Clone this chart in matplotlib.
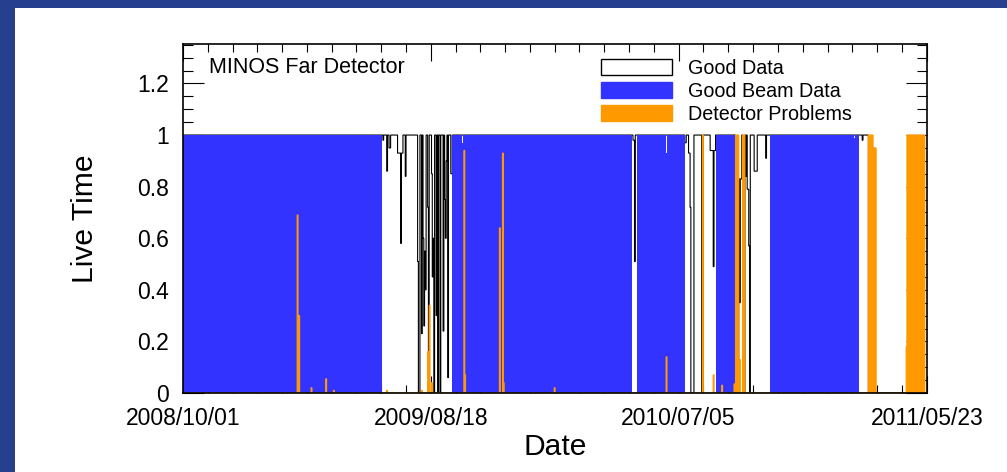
import numpy as np
import matplotlib.pyplot as plt
import matplotlib.dates as mdates
from matplotlib.patches import Rectangle, Patch
from matplotlib.ticker import FixedLocator, FuncFormatter, MultipleLocator

plt.rcParams['font.family'] = ['Liberation Sans', 'DejaVu Sans']

start = np.datetime64('2008-10-01')
n_days = 964
tick_dates = ['2008-10-01', '2009-08-18', '2010-07-05', '2011-05-23']

# good beam data, bins given as days since 2008/10/01
beam_edges = [0, 258, 349, 362, 363, 582, 588, 626, 627, 650, 690, 715, 760, 870, 871, 876, 964]
beam_vals = [1, 0, 1, 0.97, 1, 0, 1, 0.93, 1, 0, 1, 0, 1, 0.99, 1, 0]

# good data: live time is 1 except on these days
good_dip_days = [259, 264, 267, 268, 278, 279, 280, 281, 282, 283, 284, 288,
                 304, 305, 306, 309, 311, 312, 313, 314, 317, 318, 322, 323, 324, 325,
                 328, 330, 333, 337, 339, 340, 341, 343, 347, 348,
                 583, 584, 585, 650, 651, 655, 656, 657,
                 683, 684, 685, 686, 687, 688, 689,
                 720, 721, 722, 723, 729, 731, 732, 733, 734,
                 740, 741, 742, 743, 755, 880]
good_dip_vals = [0.98, 0.86, 0.95, 0.95, 0.93, 0.93, 0.93, 0.93, 0.58, 0.93, 0.93, 0.84,
                 0.51, 0.0, 0.0, 0.23, 0.6, 0.26, 0.55, 0.4, 0.72, 0.0, 0.85, 0.45, 0.6, 0.0,
                 0.3, 0.0, 0.0, 0.24, 0.75, 0.6, 0.9, 0.06, 0.85, 0.85,
                 0.98, 0.98, 0.51, 0.97, 0.97, 0.93, 0.93, 0.72,
                 0.94, 0.94, 0.94, 0.94, 0.49, 0.94, 0.94,
                 0.83, 0.35, 0.83, 0.83, 0.84, 0.79, 0.79, 0.57, 0.0,
                 0.86, 0.86, 0.86, 0.86, 0.91, 0.98]
good_off = [(658, 662), (672, 674), (716, 720), (725, 728), (888, 964)]

# detector problems
prob_days = [148, 149, 150, 166, 185, 195, 264, 309, 317, 318, 319, 322,
             364, 365, 410, 414, 415, 481, 626, 673, 687, 698, 714, 720, 721]
prob_vals = [0.69, 0.30, 0.30, 0.02, 0.055, 0.01, 0.01, 0.01, 0.16, 0.16, 0.34, 0.04,
             0.94, 0.07, 0.64, 0.93, 0.04, 0.02, 0.14, 1.0, 0.07, 0.03, 0.035, 0.13, 0.13]
prob_spans = [(716, 720, 1.0), (725, 728, 1.0), (888, 894, 1.0), (894, 898, 0.95),
              (937, 938, 0.18), (938, 961, 1.0)]

good = np.ones(n_days)
good[good_dip_days] = good_dip_vals
for a, b in good_off:
    good[a:b] = 0
prob = np.zeros(n_days)
prob[prob_days] = prob_vals
for a, b, v in prob_spans:
    prob[a:b] = v

t0 = mdates.date2num(start)
day_edges = t0 + np.arange(n_days + 1)

fig = plt.figure(figsize=(10.07, 4.72), dpi=100)
fig.patch.set_facecolor('#26408f')
fig.add_artist(Rectangle((15 / 1007, 0), 1, 1 - 8 / 472, transform=fig.transFigure,
                         facecolor='white', edgecolor='none', zorder=-1))
ax = fig.add_axes([0.1817, 0.1674, 0.7389, 0.7394])

ax.stairs(good, day_edges, color='black', lw=0.8, zorder=2)
ax.stairs(beam_vals, t0 + np.array(beam_edges), fill=True, color='#3333ff', lw=0, zorder=3)
ax.stairs(prob, day_edges, fill=True, facecolor='#ff9900', edgecolor='#ff9900', lw=0.9, zorder=4)

ax.set_xlim(t0, t0 + n_days)
ax.set_ylim(0, 1.353)
major = [mdates.date2num(np.datetime64(d)) for d in tick_dates]
ax.xaxis.set_major_locator(FixedLocator(major))
ax.xaxis.set_major_formatter(mdates.DateFormatter('%Y/%m/%d'))
minor = np.concatenate([np.linspace(a, b, 11)[1:-1] for a, b in zip(major[:-1], major[1:])])
ax.xaxis.set_minor_locator(FixedLocator(minor))
ax.yaxis.set_major_locator(MultipleLocator(0.2))
ax.yaxis.set_minor_locator(MultipleLocator(0.05))
ax.yaxis.set_major_formatter(FuncFormatter(lambda v, p: '%g' % round(v, 2)))

ax.set_axisbelow(True)
ax.tick_params(which='both', direction='in', top=True, right=True, width=0.8)
ax.tick_params(axis='x', which='major', length=12, pad=10, labelsize=16.5)
ax.tick_params(axis='x', which='minor', length=5.5)
ax.tick_params(axis='y', which='major', length=15, pad=10, labelsize=16.5)
ax.tick_params(axis='y', which='minor', length=7)
for s in ax.spines.values():
    s.set_linewidth(1.2)
    s.set_zorder(6)

ax.set_ylabel('Live Time', fontsize=21.6)
ax.yaxis.set_label_coords(-0.113, 0.5)
ax.set_xlabel('Date', fontsize=21.6)
ax.xaxis.set_label_coords(0.5, -0.115)

ax.text(0.035, 0.934, 'MINOS Far Detector', transform=ax.transAxes, fontsize=15.5, va='center', ha='left')
handles = [Patch(facecolor='white', edgecolor='black', lw=1, label='Good Data'),
           Patch(facecolor='#3333ff', edgecolor='#3333ff', label='Good Beam Data'),
           Patch(facecolor='#ff9900', edgecolor='#ff9900', label='Detector Problems')]
ax.legend(handles=handles, loc='upper left', bbox_to_anchor=(0.5614, 0.957), frameon=False,
          borderpad=0, borderaxespad=0, fontsize=14.2, handlelength=3.6, handleheight=0.85,
          handletextpad=0.85, labelspacing=0.2)

fig.savefig('out.png', dpi=100)
